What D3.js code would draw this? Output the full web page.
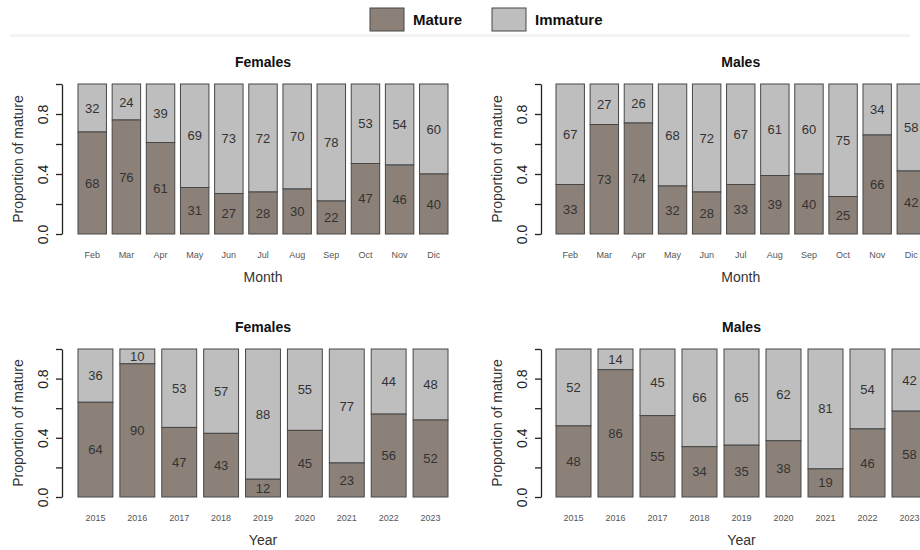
<!DOCTYPE html>
<html>
<head>
<meta charset="utf-8">
<script src="https://cdn.jsdelivr.net/npm/d3@7"></script>
<style>
  body { margin: 0; background: #fff; overflow: hidden; }
  text { font-family: "Liberation Sans", Arial, sans-serif; }
</style>
</head>
<body>
<script>
width = 920
height = 550

months = ["Feb", "Mar", "Apr", "May", "Jun", "Jul", "Aug", "Sep", "Oct", "Nov", "Dic"]
years = ["2015", "2016", "2017", "2018", "2019", "2020", "2021", "2022", "2023"]

// percentage mature / immature per group, as printed on the bars
femMonthMature = [68, 76, 61, 31, 27, 28, 30, 22, 47, 46, 40]
femMonthImmature = [32, 24, 39, 69, 73, 72, 70, 78, 53, 54, 60]
malMonthMature = [33, 73, 74, 32, 28, 33, 39, 40, 25, 66, 42]
malMonthImmature = [67, 27, 26, 68, 72, 67, 61, 60, 75, 34, 58]
femYearMature = [64, 90, 47, 43, 12, 45, 23, 56, 52]
femYearImmature = [36, 10, 53, 57, 88, 55, 77, 44, 48]
malYearMature = [48, 86, 55, 34, 35, 38, 19, 46, 58]
malYearImmature = [52, 14, 45, 66, 65, 62, 81, 54, 42]

yTicks = [0, 0.2, 0.4, 0.6, 0.8, 1.0]
yLabelled = [0, 0.4, 0.8]

matureCol = "#8b8178"
immatureCol = "#bebebe"
strokeCol = "#474747"

svg = d3.select("body")
    .append("svg")
    .attr("width", width)
    .attr("height", height)

// legend
legend = [{name: "Mature", col: matureCol, x: 370}, {name: "Immature", col: immatureCol, x: 492}]
lg = svg.selectAll("g.legend")
    .data(legend)
    .enter()
    .append("g")
    .attr("transform", function(d) { return "translate(" + d.x + ",8)"; })
lg.append("rect")
    .attr("width", 34)
    .attr("height", 23)
    .attr("fill", function(d) { return d.col; })
    .attr("stroke", strokeCol)
    .attr("stroke-width", 1)
lg.append("text")
    .attr("x", 43)
    .attr("y", 17)
    .attr("font-size", 15)
    .attr("font-weight", "bold")
    .attr("fill", "#111")
    .text(function(d) { return d.name; })

svg.append("rect")
    .attr("x", 10)
    .attr("y", 34)
    .attr("width", 900)
    .attr("height", 3)
    .attr("fill", "#f4f4f4")

panels = [
  {title: "Females", cats: months, mat: femMonthMature, imm: femMonthImmature, xlab: "Month",
   axisX: 62, x0: 78, x1: 448, y0: 234, y1: 84},
  {title: "Males", cats: months, mat: malMonthMature, imm: malMonthImmature, xlab: "Month",
   axisX: 541, x0: 556, x1: 925.5, y0: 234, y1: 84},
  {title: "Females", cats: years, mat: femYearMature, imm: femYearImmature, xlab: "Year",
   axisX: 62, x0: 78, x1: 448, y0: 497, y1: 349},
  {title: "Males", cats: years, mat: malYearMature, imm: malYearImmature, xlab: "Year",
   axisX: 541, x0: 556, x1: 927, y0: 497, y1: 349}
]

panels.forEach(function(p) {
    g = svg.append("g")
    x = d3.scaleBand()
        .domain(p.cats)
        .range([p.x0, p.x1])
        .paddingInner(0.167)
        .paddingOuter(0)
    y = d3.scaleLinear().domain([0, 1]).range([p.y0, p.y1])

    rows = p.cats.map(function(c, i) {
        tot = p.mat[i] + p.imm[i]
        return {cat: c, m: p.mat[i], im: p.imm[i], pm: p.mat[i] / tot}
    })

    // immature (top part)
    g.selectAll("empty")
        .data(rows)
        .enter()
        .append("rect")
        .attr("x", function(d) { return x(d.cat); })
        .attr("y", y(1))
        .attr("width", x.bandwidth())
        .attr("height", function(d) { return y(d.pm) - y(1); })
        .attr("fill", immatureCol)
        .attr("stroke", strokeCol)
        .attr("stroke-width", 1)
    // mature (bottom part)
    g.selectAll("empty")
        .data(rows)
        .enter()
        .append("rect")
        .attr("x", function(d) { return x(d.cat); })
        .attr("y", function(d) { return y(d.pm); })
        .attr("width", x.bandwidth())
        .attr("height", function(d) { return y(0) - y(d.pm); })
        .attr("fill", matureCol)
        .attr("stroke", strokeCol)
        .attr("stroke-width", 1)

    // segment labels
    g.selectAll("empty")
        .data(rows)
        .enter()
        .append("text")
        .attr("x", function(d) { return x(d.cat) + x.bandwidth() / 2; })
        .attr("y", function(d) { return y(d.pm / 2); })
        .attr("dy", "0.35em")
        .attr("text-anchor", "middle")
        .attr("font-size", 13)
        .attr("fill", "#333")
        .text(function(d) { return d.m; })
    g.selectAll("empty")
        .data(rows)
        .enter()
        .append("text")
        .attr("x", function(d) { return x(d.cat) + x.bandwidth() / 2; })
        .attr("y", function(d) { return y(d.pm + (1 - d.pm) / 2); })
        .attr("dy", "0.35em")
        .attr("text-anchor", "middle")
        .attr("font-size", 13)
        .attr("fill", "#333")
        .text(function(d) { return d.im; })

    // y axis
    ax = g.append("g")
        .attr("transform", "translate(" + p.axisX + ",0)")
        .call(d3.axisLeft(y)
            .tickValues(yTicks)
            .tickSize(6)
            .tickSizeOuter(0)
            .tickFormat(function(v) { return yLabelled.indexOf(v) >= 0 ? d3.format(".1f")(v) : ""; }))
    ax.select(".domain").attr("stroke", "#222").attr("stroke-width", 1.3)
    ax.selectAll(".tick line").attr("stroke", "#222").attr("stroke-width", 1.3)
    ax.selectAll(".tick text")
        .attr("font-size", 14)
        .attr("font-family", "Liberation Sans, Arial, sans-serif")
        .attr("fill", "#222")
        .attr("text-anchor", "middle")
        .attr("x", 0)
        .attr("y", 0)
        .attr("dy", "0.35em")
        .attr("transform", "translate(-19,0) rotate(-90)")

    // x category labels
    g.selectAll("empty")
        .data(rows)
        .enter()
        .append("text")
        .attr("x", function(d) { return x(d.cat) + x.bandwidth() / 2; })
        .attr("y", p.y0 + 24)
        .attr("text-anchor", "middle")
        .attr("font-size", 9)
        .attr("fill", "#555")
        .text(function(d) { return d.cat; })

    // titles
    mid = (p.x0 + p.x1) / 2
    g.append("text")
        .attr("x", mid)
        .attr("y", p.y1 - 17)
        .attr("text-anchor", "middle")
        .attr("font-size", 14)
        .attr("font-weight", "bold")
        .attr("fill", "#111")
        .text(p.title)
    g.append("text")
        .attr("x", mid)
        .attr("y", p.y0 + 48)
        .attr("text-anchor", "middle")
        .attr("font-size", 14)
        .attr("fill", "#333")
        .text(p.xlab)
    g.append("text")
        .attr("transform", "translate(" + (p.axisX - 39) + "," + ((p.y0 + p.y1) / 2) + ") rotate(-90)")
        .attr("text-anchor", "middle")
        .attr("font-size", 14)
        .attr("fill", "#333")
        .text("Proportion of mature")
})
</script>
</body>
</html>
